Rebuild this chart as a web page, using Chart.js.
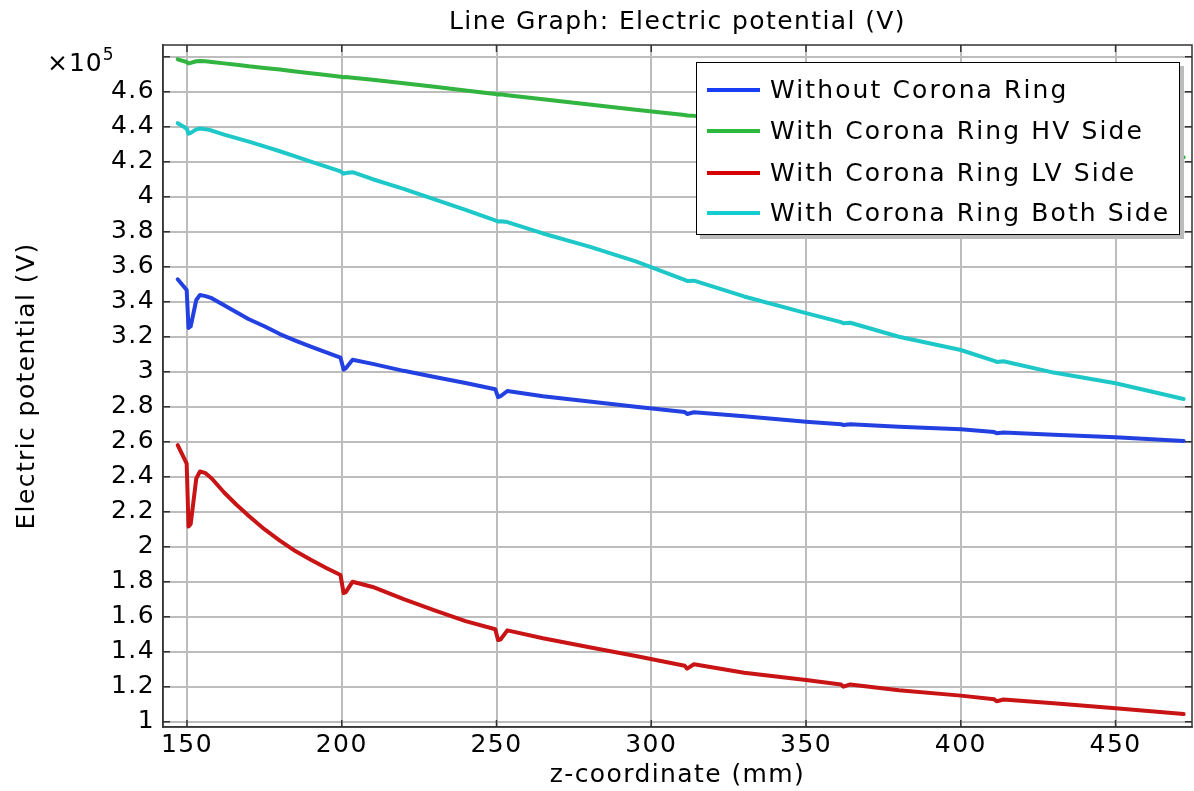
<!DOCTYPE html>
<html>
<head>
<meta charset="utf-8">
<script src="https://cdn.jsdelivr.net/npm/chart.js@4.4.0/dist/chart.umd.min.js"></script>
<style>
  body { margin: 0; background: #fff; }
  .wrap { position: relative; width: 1194px; height: 791px; }
  .exp { position: absolute; left: 47px; top: 44px; font: 25px "DejaVu Sans"; letter-spacing: 1px; color: #000; }
  .exp sup { font-size: 17px; vertical-align: 11px; letter-spacing: 0; }
  .legend { position: absolute; left: 696px; top: 62px; width: 484px; height: 173px;
    border: 1px solid #000; background: #fff; box-shadow: 4px 4px 0 #bbb; box-sizing: border-box;
    font: 25px "DejaVu Sans"; letter-spacing: 2.1px; color: #000; }
  .legend-row { position: absolute; left: 0; height: 30px; line-height: 30px; white-space: nowrap; }
  .legend-row span.swatch { position: absolute; left: 10px; top: 13px; width: 53px; height: 4px; }
  .legend-row span.txt { position: absolute; left: 73px; top: 0; }
</style>
</head>
<body>
<div class="wrap">
  <canvas id="potentialChart"></canvas>
  <div class="exp">×10<sup>5</sup></div>
  <div class="legend" id="legend"></div>
</div>
<script>
// data (z in mm, potential in V)
const zCoord = [147, 149.9, 150.5, 151.2, 153, 154.2, 156, 158, 162, 166, 170, 175, 180, 185, 190, 195,
  199.6, 200.6, 201.3, 203.5, 210, 220, 230, 240,
  249.6, 250.5, 251.3, 253.5, 265, 280, 295,
  310.8, 311.6, 313.8, 330, 350,
  361.3, 362.1, 364.3, 380, 400,
  410.8, 411.6, 413.8, 430, 450, 472];

const withoutRing = [352800, 346700, 325000, 326000, 341000, 343800, 343200, 342000, 338000, 334000, 330000, 326000, 321500, 317800, 314300, 311000,
  308000, 301200, 302000, 306800, 304500, 300500, 297000, 293500,
  290000, 285500, 286000, 289000, 286000, 283000, 280000,
  277000, 275800, 276800, 274500, 271400,
  270000, 269500, 270000, 268600, 267100,
  265500, 264800, 265200, 264000, 262500, 260400];

const ringHV = [478500, 477000, 476200, 476500, 477400, 477600, 477400, 477000, 476200, 475400, 474500, 473600, 472700, 471600, 470500, 469500,
  468600, 468300, 468400, 468000, 466800, 464800, 462800, 460700,
  458700, 458400, 458500, 458000, 455700, 452700, 449700,
  446700, 446400, 446200, 443500, 440500,
  438800, 438600, 438400, 436000, 433000,
  431500, 431300, 431000, 428700, 425800, 422500];

const ringLV = [258000, 247500, 211500, 213000, 239000, 243000, 242000, 239000, 231000, 224000, 217500, 210000, 203500, 197500, 192500, 187800,
  183800, 173500, 174000, 180000, 177000, 170000, 163600, 157500,
  152800, 146700, 147000, 152200, 147700, 142500, 137500,
  132000, 130300, 132800, 128000, 123800,
  121200, 120000, 121300, 118000, 114900,
  112800, 111700, 112700, 110500, 107700, 104400];

const ringBoth = [442000, 439000, 436000, 436500, 438500, 439000, 438600, 437800, 435500, 433500, 431500, 428800, 426000, 423000, 420000, 417200,
  414500, 413200, 413500, 414000, 410000, 404500, 398500, 392500,
  386500, 385800, 386000, 385500, 379000, 371500, 363000,
  352500, 351800, 352000, 343000, 333500,
  328300, 327700, 328000, 320000, 312400,
  306200, 305600, 306000, 299500, 293400, 284400];

const seriesNames = ['Without Corona Ring', 'With Corona Ring HV Side', 'With Corona Ring LV Side', 'With Corona Ring Both Side'];
const seriesColors = ['rgb(35, 65, 225)', 'rgb(50, 180, 65)', 'rgb(200, 20, 20)', 'rgb(30, 200, 200)'];
const legendColors = ['rgb(25, 60, 245)', 'rgb(45, 185, 60)', 'rgb(215, 0, 0)', 'rgb(20, 205, 210)'];
const seriesValues = [withoutRing, ringHV, ringLV, ringBoth];

const xTicks = [150, 200, 250, 300, 350, 400, 450];
const yTicks = [100000, 120000, 140000, 160000, 180000, 200000, 220000, 240000, 260000, 280000,
  300000, 320000, 340000, 360000, 380000, 400000, 420000, 440000, 460000, 480000];
const yTickLabels = ['1', '1.2', '1.4', '1.6', '1.8', '2', '2.2', '2.4', '2.6', '2.8',
  '3', '3.2', '3.4', '3.6', '3.8', '4', '4.2', '4.4', '4.6', ''];

function toPoints(vals) {
  return zCoord.map(function(z, i) { return {x: z, y: vals[i]}; });
}

const datasets = seriesValues.map(function(vals, i) {
  return {
    label: seriesNames[i],
    data: toPoints(vals),
    borderColor: seriesColors[i],
    backgroundColor: seriesColors[i],
    borderWidth: 4,
    pointRadius: 0,
    tension: 0,
    borderJoinStyle: 'round',
    borderCapStyle: 'round'
  };
});

// wide text like the original export
const letterSpace = {
  id: 'letterSpace',
  beforeLayout(chart) { chart.ctx.letterSpacing = '1.4px'; },
  beforeDraw(chart) { chart.ctx.letterSpacing = '1.4px'; }
};

// frame + inward tick marks on all four sides
const frameTicks = {
  id: 'frameTicks',
  afterDraw(chart) {
    const ctx = chart.ctx;
    const a = chart.chartArea;
    const xs = chart.scales.x, ys = chart.scales.y;
    ctx.save();
    ctx.strokeStyle = '#333';
    ctx.lineWidth = 1.5;
    ctx.strokeRect(a.left, a.top, a.right - a.left, a.bottom - a.top);
    ctx.beginPath();
    xs.ticks.forEach(function(t) {
      const px = xs.getPixelForValue(t.value);
      ctx.moveTo(px, a.bottom); ctx.lineTo(px, a.bottom - 7);
      ctx.moveTo(px, a.top); ctx.lineTo(px, a.top + 7);
    });
    ys.ticks.forEach(function(t) {
      const py = ys.getPixelForValue(t.value);
      ctx.moveTo(a.left, py); ctx.lineTo(a.left + 7, py);
      ctx.moveTo(a.right, py); ctx.lineTo(a.right - 7, py);
    });
    ctx.stroke();
    ctx.restore();
  }
};

const config = {
  type: 'line',
  data: { datasets: datasets },
  options: {
    responsive: true,
    maintainAspectRatio: false,
    animation: false,
    layout: { padding: { left: 0, right: 2, top: 0, bottom: 0 } },
    plugins: {
      legend: { display: false },
      tooltip: { enabled: false },
      title: {
        display: true,
        text: 'Line Graph: Electric potential (V)',
        fullSize: false,
        color: '#000',
        font: { family: 'DejaVu Sans', size: 25, weight: 'normal' },
        padding: { top: 7, bottom: 8 }
      }
    },
    scales: {
      x: {
        type: 'linear',
        min: 142.25,
        max: 474.7,
        afterFit(scale) { scale.height = 64; },
        afterBuildTicks(scale) { scale.ticks = xTicks.map(function(v) { return {value: v}; }); },
        grid: { color: '#bdbdbd', lineWidth: 2, drawTicks: false },
        border: { color: '#444', width: 1.5 },
        ticks: {
          color: '#000',
          padding: 3,
          maxRotation: 0,
          font: { family: 'DejaVu Sans', size: 25 }
        },
        title: {
          display: true,
          text: 'z-coordinate (mm)',
          color: '#000',
          font: { family: 'DejaVu Sans', size: 25 },
          padding: { top: 0, bottom: 1 }
        }
      },
      y: {
        type: 'linear',
        min: 96970,
        max: 486700,
        afterFit(scale) { scale.width = 163; },
        afterBuildTicks(scale) { scale.ticks = yTicks.map(function(v) { return {value: v}; }); },
        grid: { color: '#bdbdbd', lineWidth: 2, drawTicks: false },
        border: { color: '#444', width: 1.5 },
        ticks: {
          color: '#000',
          padding: 8,
          font: { family: 'DejaVu Sans', size: 25 },
          callback: function(v) {
            const k = yTicks.indexOf(v);
            return k >= 0 ? yTickLabels[k] : '';
          }
        },
        title: {
          display: true,
          text: 'Electric potential (V)',
          color: '#000',
          font: { family: 'DejaVu Sans', size: 25 },
          padding: { top: 12, bottom: 0 }
        }
      }
    }
  },
  plugins: [letterSpace, frameTicks]
};

const potentialChart = new Chart(document.getElementById('potentialChart'), config);

// html legend built from the datasets
const legendBox = document.getElementById('legend');
const rowTops = [12, 53, 95, 135];
potentialChart.data.datasets.forEach(function(ds, i) {
  const row = document.createElement('div');
  row.className = 'legend-row';
  row.style.top = rowTops[i] + 'px';
  row.innerHTML = '<span class="swatch" style="background:' + legendColors[i] + '"></span><span class="txt">' + ds.label + '</span>';
  legendBox.appendChild(row);
});
</script>
</body>
</html>
